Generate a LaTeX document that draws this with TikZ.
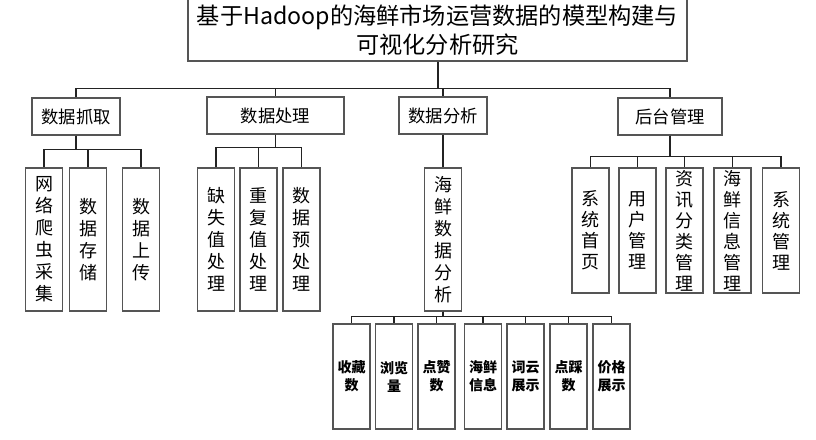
\documentclass[tikz,border=0pt]{standalone}
\usepackage{fontspec}
\newfontfamily\cjk{Noto Sans CJK SC}
\usetikzlibrary{positioning}
\definecolor{boxgray}{RGB}{85,85,85}
\definecolor{linegray}{RGB}{35,35,35}

\begin{document}
\begin{tikzpicture}[
  x=0.75pt, y=-0.75pt,
  every node/.style={
    draw=boxgray, line width=0.9pt, fill=white,
    inner sep=0pt, align=center
  },
  % 标题框
  title_box/.style={
    minimum width=374.25pt, minimum height=46.5pt,
    font=\cjk\fontsize{17.4}{22}\selectfont
  },
  % 一级模块
  module_box/.style={
    minimum height=27.75pt,
    font=\cjk\fontsize{13}{16}\selectfont
  },
  % 竖排功能框
  func_box/.style={
    minimum width=27.75pt, minimum height=107.25pt,
    font=\cjk\fontsize{13.5}{16.5}\selectfont
  },
  admin_box/.style={func_box, minimum height=93.75pt, font=\cjk\fontsize{13.5}{15.75}\selectfont},
  % 最下层分析项
  stat_box/.style={
    minimum width=27.75pt, minimum height=78.75pt,
    font=\cjk\bfseries\fontsize{10.5}{13.5}\selectfont
  },
  link/.style={draw=linegray, line width=0.8pt}
  ]
  \useasboundingbox (0,0) rectangle (816,439);

  % 标题
  \node[title_box] (root) at (437.5,30) {基于Hadoop的海鲜市场运营数据的模型构建与\\可视化分析研究};

  % 一级模块
  \node[module_box, minimum width=66pt] (crawl) at (76,116.5) {数据抓取};
  \node[module_box, minimum width=102.75pt] (proc) at (275.5,115.5) {数据处理};
  \node[module_box, minimum width=66pt] (anal) at (443,115.5) {数据分析};
  \node[module_box, minimum width=78pt] (admin) at (670,116.5) {后台管理};

  % 数据抓取
  \node[func_box] (c1) at (44,239.5) {网\\络\\爬\\虫\\采\\集};
  \node[func_box] (c2) at (88,239.5) {数\\据\\存\\储};
  \node[func_box] (c3) at (141,239.5) {数\\据\\上\\传};

  % 数据处理
  \node[func_box] (p1) at (216,239.5) {缺\\失\\值\\处\\理};
  \node[func_box] (p2) at (258.5,239.5) {重\\复\\值\\处\\理};
  \node[func_box] (p3) at (301.5,239.5) {数\\据\\预\\处\\理};

  % 数据分析
  \node[func_box] (a1) at (443,239.5) {海\\鲜\\数\\据\\分\\析};
  \node[stat_box] (s1) at (351.5,376.5) {收藏\\数};
  \node[stat_box] (s2) at (394,376.5) {浏览\\量};
  \node[stat_box] (s3) at (436.5,376.5) {点赞\\数};
  \node[stat_box] (s4) at (483,376.5) {海鲜\\信息};
  \node[stat_box] (s5) at (525.5,376.5) {词云\\展示};
  \node[stat_box] (s6) at (568.5,376.5) {点踩\\数};
  \node[stat_box] (s7) at (611.5,376.5) {价格\\展示};

  % 后台管理
  \node[admin_box] (m1) at (590.5,230.5) {系\\统\\首\\页};
  \node[admin_box] (m2) at (637.5,230.5) {用\\户\\管\\理};
  \node[admin_box] (m3) at (684.5,230.5) {资\\讯\\分\\类\\管\\理};
  \node[admin_box] (m4) at (732.5,230.5) {海\\鲜\\信\\息\\管\\理};
  \node[admin_box] (m5) at (781,230.5) {系\\统\\管\\理};

  % 连线
  \draw[link, line width=1.5pt] (root.south) -- ++(0,27);
  \foreach \m in {crawl,proc,anal,admin}
    \draw[link] (root.south) -- ++(0,27) -| (\m.north);
  \foreach \c in {c1,c2,c3}
    \draw[link] (crawl.south) -- ++(0,13.5) -| (\c.north);
  \foreach \c in {p1,p2,p3}
    \draw[link] (proc.south) -- ++(0,13) -| (\c.north);
  \draw[link] (anal.south) -- (a1.north);
  \foreach \c in {s1,s2,s3,s4,s5,s6,s7}
    \draw[link] (a1.south) -- ++(0,5) -| (\c.north);
  \foreach \c in {m1,m2,m3,m4,m5}
    \draw[link] (admin.south) -- ++(0,20.5) -| (\c.north);
\end{tikzpicture}
\end{document}
